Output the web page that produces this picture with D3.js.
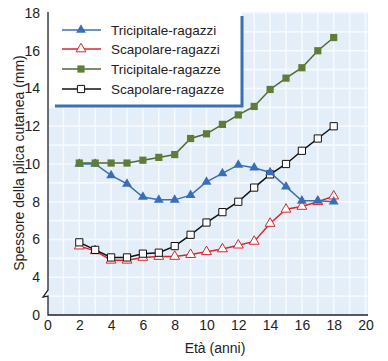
<!DOCTYPE html>
<html>
<head>
<meta charset="utf-8">
<script src="https://cdn.jsdelivr.net/npm/d3@7"></script>
<style>
  body { margin: 0; background: #fff; }
  text { font-family: "Liberation Sans", Arial, sans-serif; }
</style>
</head>
<body>
<div id="viz"></div>
<script>
// data
var ages = [2, 3, 4, 5, 6, 7, 8, 9, 10, 11, 12, 13, 14, 15, 16, 17, 18];
var tricipitaleRagazzi = [10.0, 10.0, 9.4, 8.95, 8.25, 8.1, 8.1, 8.35, 9.05, 9.5, 9.95, 9.8, 9.55, 8.8, 8.05, 8.05, 8.0];
var scapolareRagazzi   = [5.65, 5.4, 4.9, 4.9, 5.05, 5.1, 5.1, 5.2, 5.35, 5.5, 5.7, 5.9, 6.85, 7.6, 7.75, 8.0, 8.3];
var tricipitaleRagazze = [10.05, 10.05, 10.05, 10.05, 10.2, 10.35, 10.5, 11.35, 11.6, 12.1, 12.6, 13.05, 13.95, 14.55, 15.1, 16.0, 16.7];
var scapolareRagazze   = [5.85, 5.45, 5.05, 5.05, 5.25, 5.3, 5.65, 6.25, 6.9, 7.45, 8.0, 8.75, 9.45, 10.0, 10.7, 11.35, 12.0];
var seriesNames = ['Tricipitale-ragazzi', 'Scapolare-ragazzi', 'Tricipitale-ragazze', 'Scapolare-ragazze'];
var xTicks = [0, 2, 4, 6, 8, 10, 12, 14, 16, 18, 20];
var yTicks = [4, 6, 8, 10, 12, 14, 16, 18];
var yBreakLabel = '0';

var width = 388, height = 361;
var svg = d3.select('#viz').append('svg')
  .attr('width', width)
  .attr('height', height);

// y axis is broken below 4: value 2 position carries the "0" label
var x = d3.scaleLinear().domain([0, 20]).range([47.5, 365.5]);
var y = d3.scaleLinear().domain([2, 18]).range([315, 13]);

var plotLeft = 48, plotRight = 368, plotTop = 12, plotBottom = 315;

// light blue plot background with white grid
svg.append('rect')
  .attr('x', plotLeft).attr('y', plotTop)
  .attr('width', plotRight - plotLeft).attr('height', plotBottom - plotTop)
  .style('fill', '#e4eef9');

var grid = svg.append('g');
grid.selectAll('line.gx')
  .data(d3.range(1, 21))
  .enter().append('line')
  .attr('x1', function(d) {return x(d)})
  .attr('x2', function(d) {return x(d)})
  .attr('y1', plotTop).attr('y2', plotBottom)
  .style('stroke', '#f6f9fd').style('stroke-width', 1.6);
grid.selectAll('line.gy')
  .data(d3.range(3, 19))
  .enter().append('line')
  .attr('x1', plotLeft).attr('x2', plotRight)
  .attr('y1', function(d) {return y(d)})
  .attr('y2', function(d) {return y(d)})
  .style('stroke', '#f6f9fd').style('stroke-width', 1.6);

// legend box (white, blue border right and bottom)
var legLeft = 49, legRight = 242, legBottom = 106;
svg.append('rect')
  .attr('x', legLeft).attr('y', plotTop)
  .attr('width', legRight - legLeft).attr('height', legBottom - plotTop)
  .style('fill', '#fff');
svg.append('path')
  .attr('d', 'M' + 55 + ',' + legBottom + 'H' + legRight + 'V' + 16)
  .style('fill', 'none')
  .style('stroke', '#3b6fb6')
  .style('stroke-width', 3);

// axes
var xAxis = d3.axisBottom(x).tickValues(xTicks).tickSize(0).tickPadding(5);
var gx = svg.append('g').attr('transform', 'translate(0,' + plotBottom + ')').call(xAxis);
gx.select('.domain').remove();
gx.selectAll('text').style('font-size', '14px').style('fill', '#222')
  .style('font-family', '"Liberation Sans", Arial, sans-serif');

var yAxis = d3.axisLeft(y).tickValues([2].concat(yTicks)).tickSize(0).tickPadding(8)
  .tickFormat(function(d) {return d === 2 ? yBreakLabel : d});
var gy = svg.append('g').attr('transform', 'translate(' + plotLeft + ',0)').call(yAxis);
gy.select('.domain').remove();
gy.selectAll('text').style('font-size', '14px').style('fill', '#222')
  .style('font-family', '"Liberation Sans", Arial, sans-serif');

// axis lines with the break zigzag
var bk = y(3.0);
svg.append('path')
  .attr('d', 'M' + plotLeft + ',' + plotTop + 'V' + (bk - 6) +
    'L' + (plotLeft - 5) + ',' + (bk + 1) + 'L' + plotLeft + ',' + (bk) + 'V' + plotBottom + 'H' + plotRight)
  .style('fill', 'none')
  .style('stroke', '#222')
  .style('stroke-width', 1.3);

// axis titles
svg.append('text')
  .attr('x', 215).attr('y', 353)
  .attr('text-anchor', 'middle')
  .style('font-size', '14px').style('fill', '#222')
  .text('Età (anni)');
svg.append('text')
  .attr('transform', 'translate(24,' + 163 + ') rotate(-90)')
  .attr('text-anchor', 'middle')
  .style('font-size', '14px').style('fill', '#222')
  .text('Spessore della plica cutanea (mm)');

// series
var series = [
  {name: seriesNames[0], values: tricipitaleRagazzi, color: '#3a6fb8', symbol: d3.symbolTriangle, fill: '#3a6fb8', size: 42},
  {name: seriesNames[1], values: scapolareRagazzi, color: '#d8262c', symbol: d3.symbolTriangle, fill: '#fff', size: 42},
  {name: seriesNames[2], values: tricipitaleRagazze, color: '#4d6a2c', symbol: d3.symbolSquare, fill: '#5f7d37', size: 52},
  {name: seriesNames[3], values: scapolareRagazze, color: '#111', symbol: d3.symbolSquare, fill: '#fff', size: 52}
];

var line = d3.line()
  .x(function(d) {return x(d.age)})
  .y(function(d) {return y(d.v)});

// draw order: red, black, blue, green (green on top)
[1, 3, 0, 2].forEach(function(i) {
  var s = series[i];
  var pts = ages.map(function(a, j) {return {age: a, v: s.values[j]}});
  var g = svg.append('g');
  g.append('path')
    .datum(pts)
    .attr('d', line)
    .style('fill', 'none')
    .style('stroke', s.color)
    .style('stroke-width', 1.5);
  g.selectAll('path.m')
    .data(pts)
    .enter().append('path')
    .attr('class', 'm')
    .attr('transform', function(d) {return 'translate(' + x(d.age) + ',' + y(d.v) + ')'})
    .attr('d', d3.symbol().type(s.symbol).size(s.size))
    .style('fill', s.fill)
    .style('stroke', s.fill === '#fff' ? s.color : 'none')
    .style('stroke-width', 1);
});

// legend entries
var legRows = [30, 49, 69, 89];
var leg = svg.selectAll('g.leg')
  .data(series)
  .enter().append('g')
  .attr('class', 'leg')
  .attr('transform', function(d, i) {return 'translate(0,' + legRows[i] + ')'});
leg.append('line')
  .attr('x1', 62).attr('x2', 101).attr('y1', 0).attr('y2', 0)
  .style('stroke', function(d) {return d.color})
  .style('stroke-width', 1.5);
leg.append('path')
  .attr('transform', 'translate(81,0)')
  .attr('d', function(d) {return d3.symbol().type(d.symbol).size(d.size)()})
  .style('fill', function(d) {return d.fill})
  .style('stroke', function(d) {return d.fill === '#fff' ? d.color : 'none'})
  .style('stroke-width', 1);
leg.append('text')
  .attr('x', 111).attr('y', 5)
  .style('font-size', '13.5px').style('fill', '#222')
  .text(function(d) {return d.name});
</script>
</body>
</html>
